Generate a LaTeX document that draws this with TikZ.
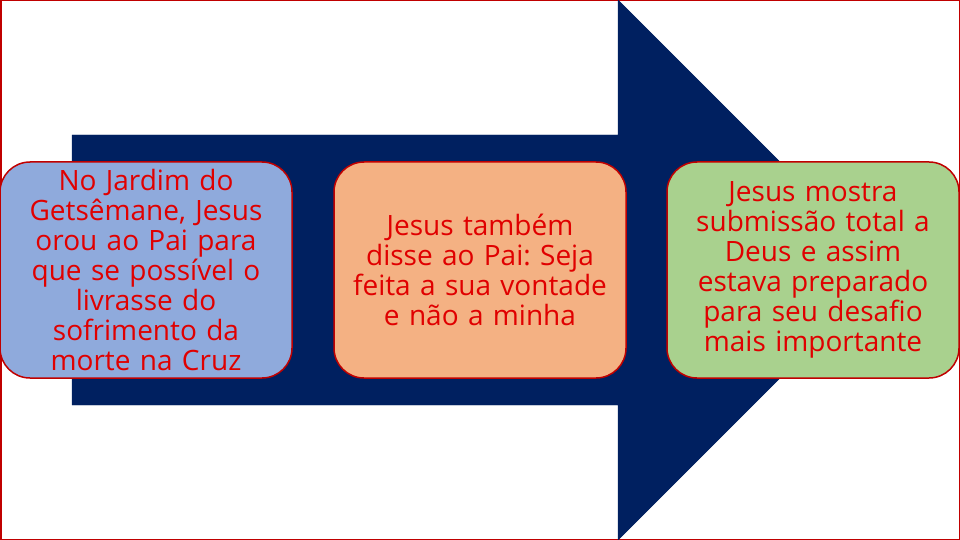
\documentclass[tikz,border=0pt]{standalone}
\usepackage{fontspec}
\setmainfont{Open Sans}
\frenchspacing
\definecolor{navy}{HTML}{002060}
\definecolor{bred}{HTML}{C00000}
\definecolor{tred}{HTML}{E00000}
\definecolor{fblue}{HTML}{8FAADC}
\definecolor{fpeach}{HTML}{F4B183}
\definecolor{fgreen}{HTML}{A9D18E}
\begin{document}
\begin{tikzpicture}[x=1pt,y=-1pt,
  card/.style={draw=bred, line width=1.5pt, rounded corners=30pt, minimum width=292pt, minimum height=216pt,
    text width=290pt, align=center, text=tred, font=\fontsize{28}{30}\selectfont, inner sep=0pt}]
\useasboundingbox (0,0) rectangle (960,540);
\draw[bred, line width=1.5pt] (0.75,0.75) rectangle (959.25,539.25);
\draw[navy, fill=navy] (72,135) -- (618,135) -- (618,0) -- (888,270) -- (618,540) -- (618,405) -- (72,405) -- cycle;
\node[card, fill=fblue] (a) at (146,270) {No Jardim do\\Getsêmane, Jesus\\orou ao Pai para\\que se possível o\\livrasse do\\sofrimento da\\morte na Cruz};
\node[card, fill=fpeach] (b) at (480,270) {Jesus também\\disse ao Pai: Seja\\feita a sua vontade\\e não a minha};
\node[card, fill=fgreen] (c) at (813,270) {Jesus mostra\\submissão total a\\Deus e assim\\estava preparado\\para seu desafio\\mais importante};
\end{tikzpicture}
\end{document}
